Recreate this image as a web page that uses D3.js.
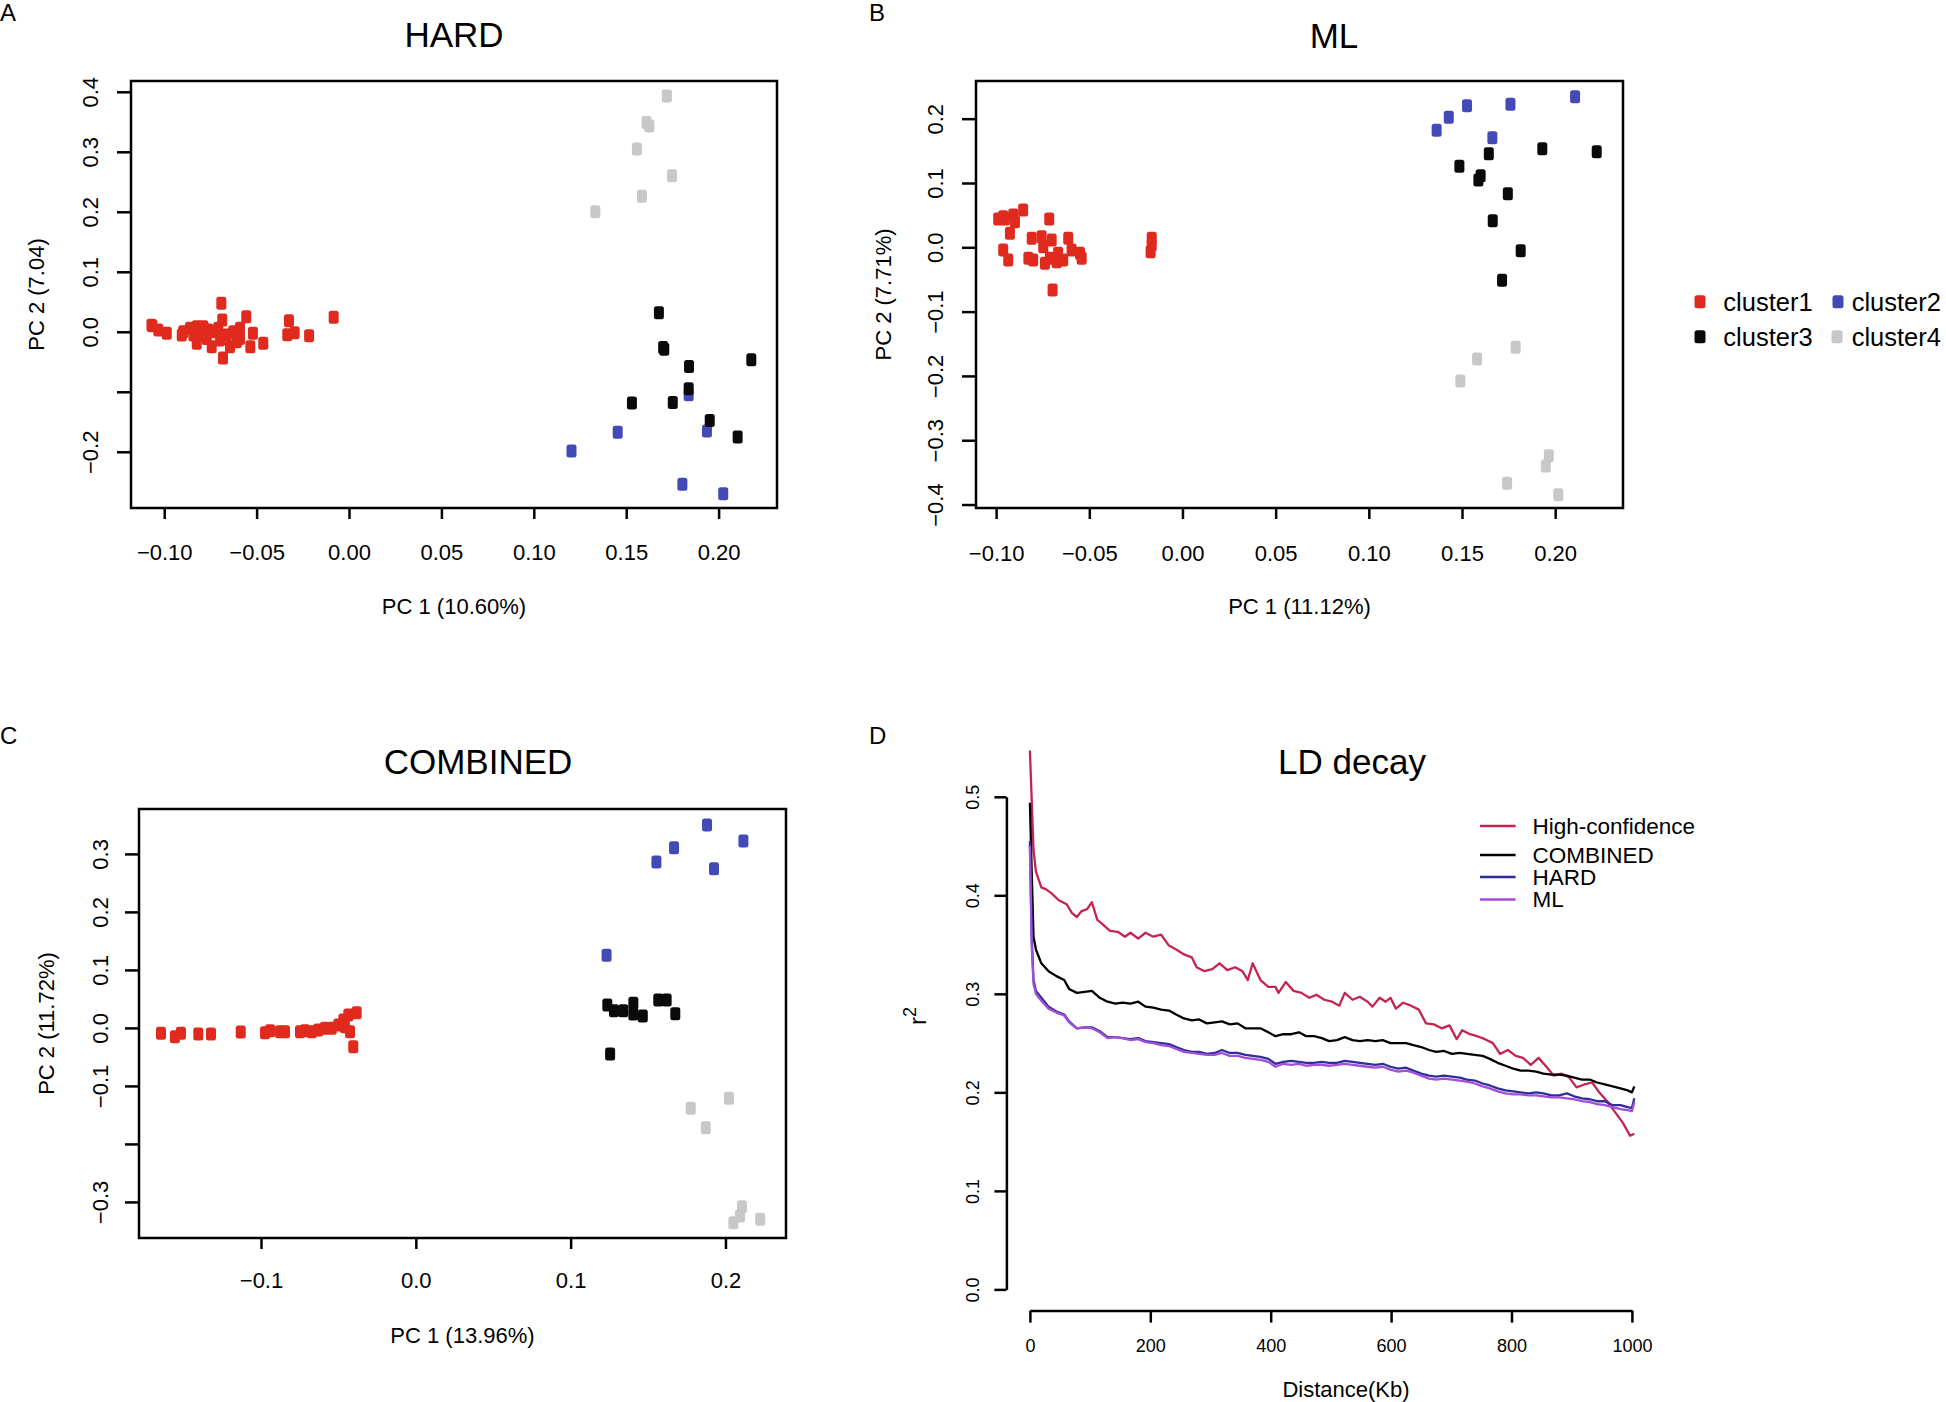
<!DOCTYPE html>
<html><head><meta charset="utf-8">
<script src="https://cdn.jsdelivr.net/npm/d3@7"></script>
<style>
html,body{margin:0;padding:0;background:#fff;}
text{font-family:"Liberation Sans",Arial,Helvetica,sans-serif;fill:#000;}
</style></head>
<body><svg id="chart" width="1946" height="1402"></svg>
<script>
// ---------------- DATA ----------------
const clusterNames = ["cluster1","cluster2","cluster3","cluster4"];
const clusterColors = ["#E02A1E","#4349B5","#0A0A0A","#C8C8C8"];

// Panel A: HARD  [PC1, PC2]
const hardCluster1 = [[-0.0691,0.0475],[-0.0083,0.0242],[-0.1064,0.0102],[-0.1032,0.003],[-0.0986,-0.0025],[-0.0556,0.025],[-0.0325,0.0185],[-0.0294,-0.0015],[-0.0334,-0.005],[-0.0216,-0.0065],[-0.0464,-0.019],[-0.052,-0.0025],[-0.0534,-0.0248],[-0.0682,-0.0437],[-0.0686,0.0197],[-0.0897,0.0002],[-0.086,0.006],[-0.0824,0.0085],[-0.0788,0.0085],[-0.0761,0.003],[-0.0734,0.0002],[-0.0707,0.006],[-0.0662,-0.0053],[-0.0626,0.0002],[-0.059,0.006],[-0.0824,-0.019],[-0.0743,-0.0248],[-0.0644,-0.0248],[-0.059,-0.011],[-0.0905,-0.0053],[-0.077,-0.011],[-0.0698,-0.0137],[-0.0842,-0.0053],[-0.0797,-0.0053],[-0.0608,-0.0165],[-0.1069,0.011]];
const hardCluster2 = [[0.1838,-0.105],[0.1454,-0.1675],[0.1937,-0.1653],[0.1804,-0.254],[0.2025,-0.270],[0.1204,-0.1987]];
const hardCluster3 = [[0.1677,0.0318],[0.1706,-0.029],[0.1700,-0.026],[0.184,-0.058],[0.2177,-0.0465],[0.1838,-0.0948],[0.1531,-0.1187],[0.1752,-0.118],[0.1952,-0.148],[0.2103,-0.1753]];
const hardCluster4 = [[0.172,0.393],[0.161,0.349],[0.1625,0.343],[0.1558,0.3047],[0.1748,0.260],[0.1585,0.2258],[0.1333,0.2002]];

// Panel B: ML
const mlCluster1 = [[-0.0989,0.044],[-0.0953,0.044],[-0.0908,0.0502],[-0.0855,0.058],[-0.0899,0.0398],[-0.0926,0.0218],[-0.0715,0.044],[-0.0962,-0.0042],[-0.0935,-0.0198],[-0.0809,0.014],[-0.0827,-0.0171],[-0.0756,0.0165],[-0.0747,0.0009],[-0.0702,0.0114],[-0.0613,0.014],[-0.0711,-0.0171],[-0.0667,-0.0093],[-0.064,-0.0198],[-0.0595,-0.0042],[-0.055,-0.0093],[-0.0541,-0.0171],[-0.0801,-0.0198],[-0.0738,-0.0249],[-0.0675,-0.0224],[-0.0697,-0.0664],[-0.0165,0.014],[-0.0165,0.0036],[-0.0171,-0.0068],[-0.0962,0.0476]];
const mlCluster2 = [[0.2107,0.2342],[0.1527,0.2202],[0.176,0.2224],[0.1429,0.2022],[0.1364,0.182],[0.1663,0.1705]];
const mlCluster3 = [[0.1931,0.1534],[0.2223,0.1487],[0.1644,0.1456],[0.1486,0.126],[0.16,0.1114],[0.1588,0.1047],[0.1746,0.0834],[0.1665,0.0414],[0.1815,-0.0053],[0.1715,-0.0513]];
const mlCluster4 = [[0.1788,-0.1555],[0.1581,-0.1737],[0.1491,-0.2079],[0.1966,-0.3241],[0.195,-0.3401],[0.1742,-0.3671],[0.2017,-0.3847]];

// Panel C: COMBINED
const combCluster1 = [[-0.1646,-0.0093],[-0.1556,-0.0152],[-0.1517,-0.0093],[-0.1405,-0.0105],[-0.1323,-0.0105],[-0.1131,-0.0071],[-0.0974,-0.0083],[-0.0941,-0.0048],[-0.0877,-0.0066],[-0.0845,-0.0066],[-0.0748,-0.0066],[-0.0716,-0.0048],[-0.0672,-0.0066],[-0.063,-0.0036],[-0.0587,-0.0007],[-0.0543,-0.0007],[-0.05,0.005],[-0.0468,0.0136],[-0.0436,0.0222],[-0.0382,0.0262],[-0.0425,-0.0066],[-0.0404,-0.0324],[-0.0458,0.002]];
const combCluster2 = [[0.1881,0.3498],[0.2116,0.3222],[0.1668,0.3107],[0.1554,0.286],[0.1926,0.2745],[0.1232,0.1252]];
const combCluster3 = [[0.1237,0.0395],[0.128,0.0297],[0.134,0.0297],[0.1405,0.0424],[0.1405,0.024],[0.1466,0.0205],[0.1566,0.0481],[0.162,0.0481],[0.1676,0.0245],[0.1255,-0.045]];
const combCluster4 = [[0.2023,-0.1214],[0.1776,-0.1386],[0.1873,-0.172],[0.2107,-0.3083],[0.2094,-0.3243],[0.2051,-0.3359],[0.2224,-0.33]];

// Tick values / labels
const pcaXTicksAB = [-0.10,-0.05,0.00,0.05,0.10,0.15,0.20];
const pcaXLabelsAB = ["\u22120.10","\u22120.05","0.00","0.05","0.10","0.15","0.20"];
const hardYTicks = [0.4,0.3,0.2,0.1,0.0,-0.1,-0.2];
const hardYLabels = ["0.4","0.3","0.2","0.1","0.0","","\u22120.2"];
const mlYTicks = [0.2,0.1,0.0,-0.1,-0.2,-0.3,-0.4];
const mlYLabels = ["0.2","0.1","0.0","\u22120.1","\u22120.2","\u22120.3","\u22120.4"];
const combXTicks = [-0.1,0.0,0.1,0.2];
const combXLabels = ["\u22120.1","0.0","0.1","0.2"];
const combYTicks = [0.3,0.2,0.1,0.0,-0.1,-0.2,-0.3];
const combYLabels = ["0.3","0.2","0.1","0.0","\u22120.1","","\u22120.3"];

// Panel D: LD decay
const ldSeries = ["High-confidence","COMBINED","HARD","ML"];
const ldColors = ["#C4244F","#000000","#2E2E96","#A24ED8"];
const highConfKb = [0,6,10,19,27,36,48,61,70,78,86,95,103,112,120,133,146,158,167,180,192,205,218,231,243,256,269,277,290,303,315,328,341,353,362,370,383,396,408,413,425,438,451,464,476,489,502,514,523,536,548,561,569,581,591,599,608,620,633,646,658,671,684,697,709,718,731,743,756,769,781,794,807,819,832,845,858,870,883,896,908,921,934,947,959,972,985,997,1004];
const highConfR2 = [0.547,0.446,0.424,0.408,0.406,0.402,0.395,0.391,0.382,0.378,0.384,0.386,0.393,0.375,0.371,0.364,0.363,0.358,0.362,0.356,0.362,0.358,0.360,0.349,0.345,0.340,0.337,0.327,0.323,0.325,0.331,0.324,0.327,0.323,0.314,0.331,0.314,0.307,0.307,0.301,0.312,0.303,0.301,0.296,0.299,0.294,0.292,0.288,0.301,0.294,0.297,0.292,0.287,0.296,0.292,0.296,0.285,0.291,0.288,0.284,0.270,0.269,0.265,0.268,0.254,0.263,0.259,0.257,0.254,0.250,0.239,0.243,0.237,0.235,0.228,0.235,0.226,0.217,0.219,0.215,0.205,0.208,0.210,0.199,0.191,0.180,0.169,0.156,0.158];
const distKb = [0,3,6,10,19,31,44,57,65,78,91,103,116,129,142,154,167,180,192,205,218,231,243,256,269,281,294,307,319,332,345,358,370,383,396,408,421,434,447,459,472,485,497,510,523,536,548,561,574,586,599,612,625,637,650,663,675,688,701,714,726,739,752,764,777,790,803,815,828,841,853,866,879,892,904,917,930,942,955,968,981,993,1000,1004];
const combinedR2 = [0.494,0.424,0.358,0.345,0.331,0.323,0.318,0.314,0.305,0.301,0.302,0.303,0.296,0.292,0.290,0.291,0.290,0.292,0.287,0.286,0.284,0.283,0.279,0.275,0.273,0.274,0.270,0.271,0.272,0.269,0.270,0.265,0.265,0.265,0.261,0.257,0.259,0.259,0.261,0.257,0.257,0.255,0.252,0.253,0.256,0.253,0.252,0.253,0.252,0.253,0.250,0.250,0.250,0.248,0.246,0.243,0.241,0.242,0.239,0.240,0.239,0.238,0.237,0.234,0.230,0.227,0.224,0.222,0.222,0.221,0.219,0.218,0.218,0.217,0.215,0.213,0.213,0.210,0.208,0.206,0.204,0.202,0.200,0.206];
const hardR2 = [0.455,0.358,0.314,0.303,0.296,0.287,0.282,0.279,0.272,0.265,0.266,0.266,0.262,0.256,0.256,0.255,0.254,0.255,0.252,0.251,0.250,0.249,0.246,0.243,0.241,0.241,0.239,0.240,0.243,0.240,0.240,0.238,0.237,0.236,0.234,0.229,0.231,0.232,0.231,0.230,0.230,0.231,0.230,0.230,0.232,0.231,0.230,0.229,0.228,0.229,0.226,0.224,0.225,0.222,0.219,0.217,0.216,0.217,0.216,0.215,0.213,0.212,0.209,0.207,0.204,0.202,0.201,0.200,0.199,0.200,0.199,0.197,0.197,0.199,0.196,0.194,0.193,0.191,0.191,0.187,0.187,0.185,0.184,0.194];
const mlR2 = [0.450,0.350,0.310,0.300,0.293,0.285,0.281,0.278,0.271,0.265,0.266,0.265,0.261,0.255,0.256,0.255,0.253,0.254,0.251,0.250,0.248,0.247,0.244,0.241,0.240,0.239,0.238,0.238,0.240,0.237,0.237,0.235,0.234,0.233,0.231,0.226,0.229,0.228,0.229,0.227,0.228,0.228,0.227,0.228,0.229,0.228,0.227,0.226,0.225,0.226,0.223,0.221,0.222,0.220,0.217,0.214,0.213,0.214,0.213,0.212,0.211,0.209,0.206,0.204,0.201,0.199,0.198,0.198,0.197,0.197,0.196,0.195,0.195,0.194,0.193,0.191,0.190,0.188,0.187,0.185,0.183,0.182,0.181,0.190];
const ldXTicks = [0,200,400,600,800,1000];
const ldYTicks = [0.0,0.1,0.2,0.3,0.4,0.5];

// ---------------- DRAW ----------------
const svg = d3.select("#chart");
svg.append("rect").attr("width",1946).attr("height",1402).attr("fill","#fff");

function styleAxis(g){
  g.selectAll(".tick line").attr("stroke","#000").attr("stroke-width",2.5);
  g.selectAll(".domain").remove();
}

function scatterPanel(cfg){
  const x = d3.scaleLinear().domain(cfg.xDomain).range([cfg.left,cfg.right]);
  const y = d3.scaleLinear().domain(cfg.yDomain).range([cfg.bottom,cfg.top]);
  const g = svg.append("g");
  cfg.clusters.forEach((pts,ci)=>{
    g.append("g").selectAll("rect").data(pts).join("rect")
      .attr("x",d=>x(d[0])-5).attr("y",d=>y(d[1])-6.5)
      .attr("width",10).attr("height",13).attr("rx",2.5)
      .attr("fill",clusterColors[ci]);
  });
  g.append("rect").attr("x",cfg.left).attr("y",cfg.top)
    .attr("width",cfg.right-cfg.left).attr("height",cfg.bottom-cfg.top)
    .attr("fill","none").attr("stroke","#000").attr("stroke-width",2.5);
  const xa = g.append("g").attr("transform",`translate(0,${cfg.bottom})`)
    .call(d3.axisBottom(x).tickValues(cfg.xTicks).tickSize(11).tickSizeOuter(0)
      .tickFormat((d,i)=>cfg.xLabels[i]));
  styleAxis(xa);
  xa.selectAll("text").attr("y",cfg.xLabOff).attr("dy","0.35em")
    .style("font-size","22px").style("font-family","Liberation Sans, Arial, sans-serif").attr("fill","#000");
  const ya = g.append("g").attr("transform",`translate(${cfg.left},0)`)
    .call(d3.axisLeft(y).tickValues(cfg.yTicks).tickSize(14).tickSizeOuter(0)
      .tickFormat((d,i)=>cfg.yLabels[i]));
  styleAxis(ya);
  ya.selectAll("text").attr("transform","rotate(-90)").attr("x",0).attr("y",-cfg.yLabOff)
    .attr("dy","0.35em").attr("text-anchor","middle")
    .style("font-size","22px").style("font-family","Liberation Sans, Arial, sans-serif").attr("fill","#000");
  g.append("text").attr("x",cfg.titleX).attr("y",cfg.titleY).attr("text-anchor","middle")
    .style("font-size","35px").text(cfg.title);
  g.append("text").attr("x",(cfg.left+cfg.right)/2).attr("y",cfg.xTitleY).attr("text-anchor","middle")
    .attr("dy","0.35em").style("font-size","22px").text(cfg.xTitle);
  g.append("text").attr("transform",`translate(${cfg.yTitleX},${(cfg.top+cfg.bottom)/2}) rotate(-90)`)
    .attr("text-anchor","middle").attr("dy","0.35em").style("font-size","22px").text(cfg.yTitle);
  g.append("text").attr("x",cfg.letterX).attr("y",cfg.letterY).style("font-size","24px").text(cfg.letter);
}

scatterPanel({letter:"A",letterX:0,letterY:20.5,title:"HARD",titleX:454,titleY:47,
  left:131,right:777,top:81,bottom:508,xDomain:[-0.11797,0.2316],yDomain:[-0.2937,0.418],
  clusters:[hardCluster1,hardCluster2,hardCluster3,hardCluster4],
  xTicks:pcaXTicksAB,xLabels:pcaXLabelsAB,yTicks:hardYTicks,yLabels:hardYLabels,
  xLabOff:44,yLabOff:40.4,xTitle:"PC 1 (10.60%)",xTitleY:606,yTitle:"PC 2 (7.04)",yTitleX:36.7});

scatterPanel({letter:"B",letterX:869,letterY:20.5,title:"ML",titleX:1334,titleY:47.5,
  left:976,right:1623,top:81,bottom:508,xDomain:[-0.1108,0.2364],yDomain:[-0.4054,0.2586],
  clusters:[mlCluster1,mlCluster2,mlCluster3,mlCluster4],
  xTicks:pcaXTicksAB,xLabels:pcaXLabelsAB,yTicks:mlYTicks,yLabels:mlYLabels,
  xLabOff:45,yLabOff:41,xTitle:"PC 1 (11.12%)",xTitleY:606,yTitle:"PC 2 (7.71%)",yTitleX:883});

scatterPanel({letter:"C",letterX:0,letterY:744,title:"COMBINED",titleX:478,titleY:774,
  left:139,right:786,top:809,bottom:1238,xDomain:[-0.1788,0.2391],yDomain:[-0.3622,0.3774],
  clusters:[combCluster1,combCluster2,combCluster3,combCluster4],
  xTicks:combXTicks,xLabels:combXLabels,yTicks:combYTicks,yLabels:combYLabels,
  xLabOff:42.7,yLabOff:39,xTitle:"PC 1 (13.96%)",xTitleY:1335,yTitle:"PC 2 (11.72%)",yTitleX:46});

// Legend for clusters (right of panel B)
const legSq = [[1700,301.7],[1838,301.7],[1700,336.7],[1837,336.7]];
const legTx = [1723.3,1851.7,1723.3,1851.7];
const leg = svg.append("g");
clusterNames.forEach((nm,i)=>{
  const p = legSq[i];
  leg.append("rect").attr("x",p[0]-5.5).attr("y",p[1]-6.5).attr("width",11).attr("height",13)
    .attr("rx",2.5).attr("fill",clusterColors[i]);
  leg.append("text").attr("x",legTx[i]).attr("y",p[1]+9.5).style("font-size","25.5px").text(nm);
});

// Panel D
(function(){
  const x = d3.scaleLinear().domain([0,1000]).range([1029.9,1631.9]);
  const y = d3.scaleLinear().domain([0,0.5]).range([1289.4,796.8]);
  const g = svg.append("g");
  const line = d3.line().x(d=>x(d[0])).y(d=>y(d[1]));
  const seriesData = [
    d3.zip(highConfKb,highConfR2),
    d3.zip(distKb,combinedR2),
    d3.zip(distKb,hardR2),
    d3.zip(distKb,mlR2)
  ];
  seriesData.forEach((sd,i)=>{
    g.append("path").datum(sd).attr("d",line).attr("fill","none")
      .attr("stroke",ldColors[i]).attr("stroke-width",2.3).attr("stroke-linejoin","round");
  });
  const xa = g.append("g").attr("transform","translate(0,1310.6)")
    .call(d3.axisBottom(x).tickValues(ldXTicks).tickSize(12).tickSizeOuter(0).tickFormat(d3.format("d")));
  xa.select(".domain").attr("stroke","#000").attr("stroke-width",2.5);
  xa.selectAll(".tick line").attr("stroke","#000").attr("stroke-width",2.5);
  xa.selectAll("text").attr("y",35.2).attr("dy","0.35em").style("font-size","18px")
    .style("font-family","Liberation Sans, Arial, sans-serif").attr("fill","#000");
  const ya = g.append("g").attr("transform","translate(1006.4,0)")
    .call(d3.axisLeft(y).tickValues(ldYTicks).tickSize(12).tickSizeOuter(0).tickFormat(d3.format(".1f")));
  ya.select(".domain").attr("stroke","#000").attr("stroke-width",2.5);
  ya.selectAll(".tick line").attr("stroke","#000").attr("stroke-width",2.5);
  ya.selectAll("text").attr("transform","rotate(-90)").attr("x",0).attr("y",-33.4)
    .attr("dy","0.35em").attr("text-anchor","middle").style("font-size","18px")
    .style("font-family","Liberation Sans, Arial, sans-serif").attr("fill","#000");
  g.append("text").attr("x",1352).attr("y",774).attr("text-anchor","middle").style("font-size","35px").text("LD decay");
  g.append("text").attr("x",1346).attr("y",1389).attr("dy","0.35em").attr("text-anchor","middle")
    .style("font-size","22px").text("Distance(Kb)");
  const rl = g.append("text").attr("transform","translate(926,1016) rotate(-90)").attr("text-anchor","middle")
    .style("font-size","24px");
  rl.append("tspan").text("r");
  rl.append("tspan").attr("dy","-10").style("font-size","18px").text("2");
  g.append("text").attr("x",869).attr("y",744).style("font-size","24px").text("D");
  const ly = [826,855,877,899.5];
  ldSeries.forEach((nm,i)=>{
    g.append("line").attr("x1",1480).attr("x2",1515.6).attr("y1",ly[i]).attr("y2",ly[i])
      .attr("stroke",ldColors[i]).attr("stroke-width",2.5);
    g.append("text").attr("x",1532.4).attr("y",ly[i]).attr("dy","0.35em").style("font-size","22.5px").text(nm);
  });
})();
</script></body></html>
